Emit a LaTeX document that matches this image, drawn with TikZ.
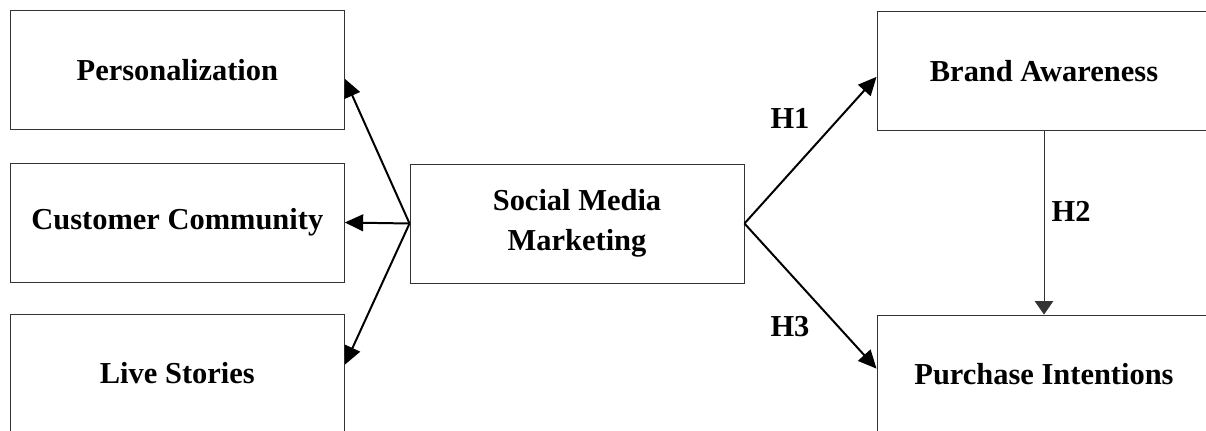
\documentclass[tikz,border=0pt]{standalone}
\usepackage{fontspec}
\setmainfont{Liberation Serif}
\usetikzlibrary{arrows.meta,positioning}

\begin{document}
\begin{tikzpicture}[
    factor/.style={rectangle,draw=black!80,line width=0.8pt,minimum width=10.02cm,minimum height=3.57cm,align=center,font=\fontsize{26}{34}\selectfont\bfseries},
    hyp/.style={font=\fontsize{26}{30}\selectfont\bfseries},
    arrow/.style={-{Triangle[length=0.55cm,width=0.5cm]},line width=1.7pt},
    thinarrow/.style={-{Triangle[length=0.4cm,width=0.55cm]},line width=0.8pt,draw=black!80}
]

\clip (0,0) rectangle (36.18,12.9);

% Dimensions
\node[factor] (pers) at (5.32,10.8) {Personalization};
\node[factor] (comm) at (5.32,6.225) {Customer Community};
\node[factor] (live) at (5.32,1.695) {Live Stories};

% Central construct
\node[factor] (smm) at (17.31,6.195) {Social Media\\Marketing};

% Outcomes
\node[factor] (brand) at (31.32,10.77) {Brand Awareness};
\node[factor] (purch) at (31.32,1.665) {Purchase Intentions};

% Connection arrows
\draw[arrow] (smm.west) -- (pers.357.5);
\draw[arrow] (smm.west) -- (comm.east);
\draw[arrow] (smm.west) -- (live.3.4);
\draw[arrow] (smm.east) -- (brand.182);
\draw[arrow] (smm.east) -- (purch.178);
\draw[thinarrow] (brand.south) -- node[hyp,right=0.1cm,pos=0.44] (h2) {H2} (purch.north);

% Hypotheses
\node[hyp] (h1) at (23.7,9.36) {H1};
\node[hyp] (h3) at (23.7,3.09) {H3};

\end{tikzpicture}
\end{document}
